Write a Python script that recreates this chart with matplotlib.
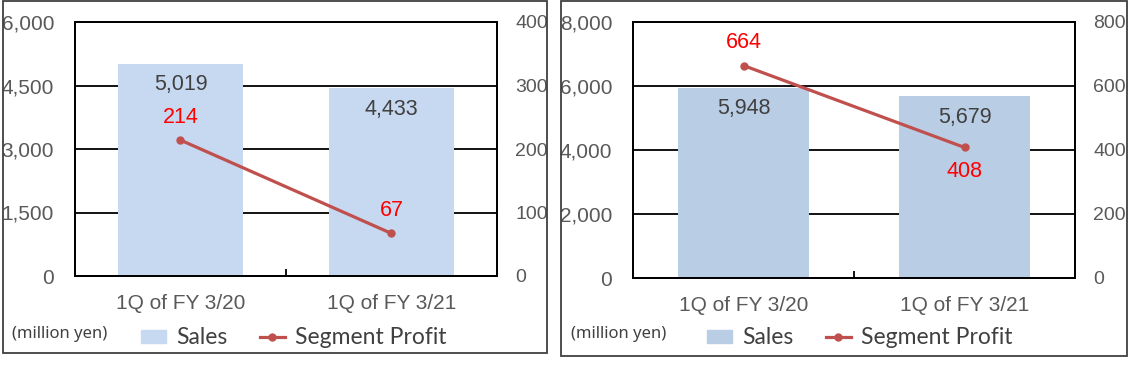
import matplotlib
matplotlib.use("Agg")
import matplotlib.pyplot as plt
from matplotlib.patches import Rectangle
from matplotlib.lines import Line2D

categories = ["1Q of FY 3/20", "1Q of FY 3/21"]

# left segment
sales_left = [5019, 4433]
profit_left = [214, 67]
# right segment
sales_right = [5948, 5679]
profit_right = [664, 408]

TICK_GREY = "#595959"
LABEL_DARK = "#404040"
LINE_RED = "#C0504D"
TICK_FONT = "Liberation Sans"
LEGEND_FONT = "Lato"

fig = plt.figure(figsize=(11.3, 3.68), dpi=100)


def px(x, y):
    # pixel (from top-left) -> figure fraction
    return x / 1130, (368 - y) / 368


def draw_panel(rect, sales, profit, sales_max, sales_step, profit_max, profit_step,
               bar_color, label_side, border, legend_x, note_x):
    ax = fig.add_axes(rect)
    ax2 = ax.twinx()
    xs = list(range(len(categories)))

    ax.bar(xs, sales, width=0.59, color=bar_color, zorder=2, label="Sales")
    ax.set_xlim(-0.5, len(categories) - 0.5)
    ax.set_ylim(0, sales_max)
    ax.set_yticks(range(0, sales_max + 1, sales_step))
    ax.set_yticklabels([f"{v:,}" for v in range(0, sales_max + 1, sales_step)])
    ax.yaxis.grid(True, color="black", lw=1.3, zorder=0)
    ax.set_axisbelow(True)
    ax.tick_params(axis="y", length=0, pad=15, labelsize=15, labelcolor=TICK_GREY)
    ax.set_xticks(xs)
    ax.set_xticklabels(categories)
    ax.tick_params(axis="x", length=0, pad=13, labelsize=15, labelcolor=TICK_GREY)
    ax.set_xticks([0.5], minor=True)
    ax.tick_params(axis="x", which="minor", direction="in", length=5, width=1.3, color="black")
    for lbl in ax.get_xticklabels() + ax.get_yticklabels():
        lbl.set_fontfamily(TICK_FONT)

    for x, v in zip(xs, sales):
        ax.annotate(f"{v:,}", (x, v), xytext=(0, -15), textcoords="offset points",
                    ha="center", va="center", fontsize=15.5, color=LABEL_DARK,
                    family=TICK_FONT, zorder=3)

    ax2.plot(xs, profit, color=LINE_RED, lw=2.3, marker="o", markersize=5,
             label="Segment Profit")
    ax2.set_ylim(0, profit_max)
    ax2.set_yticks(range(0, profit_max + 1, profit_step))
    ax2.tick_params(axis="y", length=0, pad=13, labelsize=14, labelcolor=TICK_GREY)
    for lbl in ax2.get_yticklabels():
        lbl.set_fontfamily(TICK_FONT)
    for x, v, side in zip(xs, profit, label_side):
        dy = 16.5 if side == "above" else -17
        ax2.annotate(f"{v}", (x, v), xytext=(0, dy), textcoords="offset points",
                     ha="center", va="center", fontsize=15.5, color="#FF0000",
                     family=TICK_FONT)

    for a in (ax, ax2):
        for s in a.spines.values():
            s.set_color("black")
            s.set_linewidth(1.3)

    handles = [Rectangle((0, 0), 1, 1, color=bar_color),
               Line2D([], [], color=LINE_RED, lw=2.3, marker="o", markersize=5)]
    leg = fig.legend(handles, ["Sales", "Segment Profit"], loc="center left",
                     bbox_to_anchor=px(legend_x, 338), ncol=2, frameon=False,
                     prop={"family": LEGEND_FONT, "size": 16.5},
                     handlelength=1.1, handleheight=0.5, handletextpad=0.45,
                     columnspacing=1.4, borderpad=0, borderaxespad=0)
    for t in leg.get_texts():
        t.set_color(LABEL_DARK)

    fig.text(*px(note_x, 334), "(million yen)", ha="left", va="center",
             fontsize=12, color=LABEL_DARK, family="Noto Sans")

    bx0, by0, bx1, by1 = border
    fig.add_artist(Rectangle(px(bx0, by1), (bx1 - bx0) / 1130, (by1 - by0) / 368,
                             transform=fig.transFigure, fill=False,
                             ec="#404040", lw=1.3))


draw_panel([75 / 1130, 92 / 368, 422 / 1130, 254 / 368],
           sales_left, profit_left, 6000, 1500, 400, 100,
           "#C6D9F1", ["above", "above"], (3, 1, 547, 353), 141, 12)
draw_panel([633 / 1130, 90 / 368, 442 / 1130, 256 / 368],
           sales_right, profit_right, 8000, 2000, 800, 200,
           "#B9CDE5", ["above", "below"], (561, 1, 1127, 356), 707, 571)

fig.savefig("out.png", dpi=100)
